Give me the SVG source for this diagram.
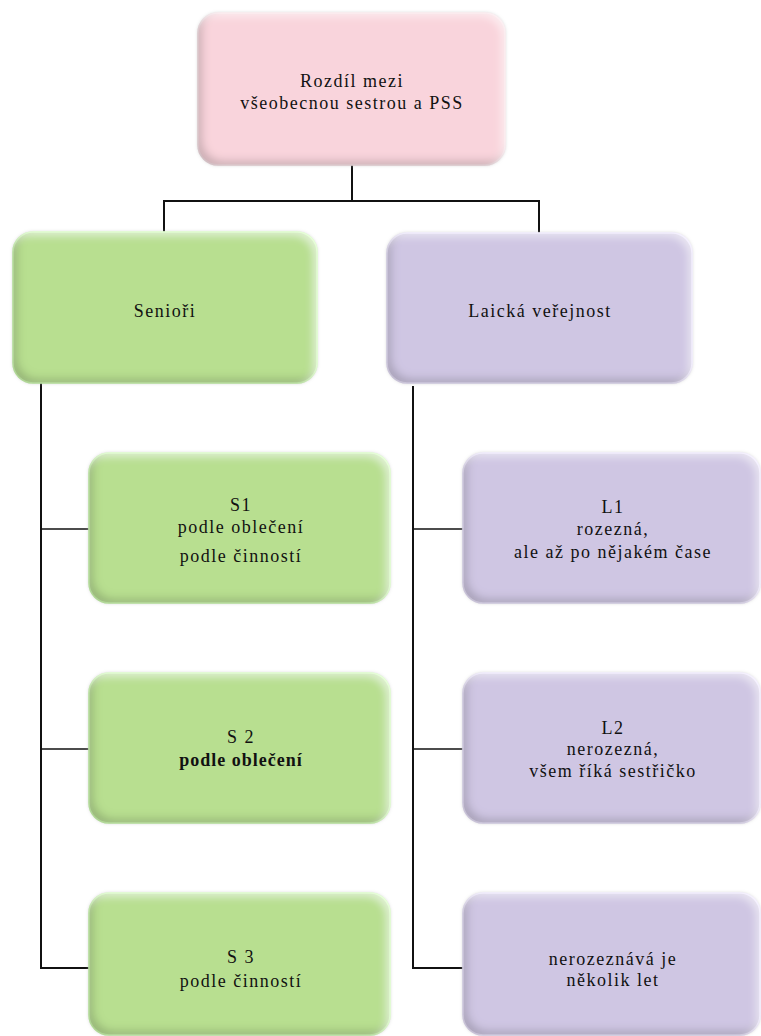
<svg xmlns="http://www.w3.org/2000/svg" width="761" height="1036" viewBox="0 0 761 1036">
  <defs>
    <!-- soft bevel: dark inner edge at left/bottom, light inner edge at top/right -->
    <filter id="bevel" x="-10%" y="-15%" width="120%" height="130%">
      <feComponentTransfer in="SourceAlpha" result="inv">
        <feFuncA type="table" tableValues="1 0"/>
      </feComponentTransfer>
      <feGaussianBlur in="inv" stdDeviation="4" result="invb"/>
      <feOffset in="invb" dx="5" dy="-5" result="sh"/>
      <feFlood flood-color="#333333" flood-opacity="0.38"/>
      <feComposite in2="sh" operator="in" result="shc"/>
      <feComposite in="shc" in2="SourceAlpha" operator="in" result="innerShadow"/>
      <feOffset in="invb" dx="-4" dy="4" result="hl"/>
      <feFlood flood-color="#ffffff" flood-opacity="0.55"/>
      <feComposite in2="hl" operator="in" result="hlc"/>
      <feComposite in="hlc" in2="SourceAlpha" operator="in" result="innerHl"/>
      <feGaussianBlur in="SourceAlpha" stdDeviation="1.5" result="glow"/>
      <feFlood flood-color="#bbbbbb" flood-opacity="0.5"/>
      <feComposite in2="glow" operator="in" result="glowc"/>
      <feMerge>
        <feMergeNode in="glowc"/>
        <feMergeNode in="SourceGraphic"/>
        <feMergeNode in="innerShadow"/>
        <feMergeNode in="innerHl"/>
      </feMerge>
    </filter>
  </defs>
  <style>
    .box { filter: url(#bevel); stroke-width: 1.5; }
    .pink { fill: #f9d4dc; stroke: #fbe2e8; }
    .green { fill: #b8df90; stroke: #cdffaa; }
    .purple { fill: #cfc6e3; stroke: #ece4ff; }
    text { font-family: 'Liberation Serif', 'DejaVu Serif', serif; font-size: 18px; letter-spacing: 1.5px; fill: #111; text-anchor: middle; }
    text.bold { font-weight: bold; letter-spacing: 1px; }
    .conn { fill: none; stroke: #111; stroke-width: 2; }
    .thin { stroke-width: 1.5; }
  </style>

  <rect width="761" height="1036" fill="#ffffff"/>

  <!-- connectors -->
  <g id="connectors">
    <polyline class="conn" points="352,165 352,201"/>
    <polyline class="conn" points="164,232 164,201 539,201 539,233"/>
    <polyline class="conn" points="41,383 41,968 89,968"/>
    <line class="conn thin" x1="41" y1="529" x2="89" y2="529"/>
    <line class="conn thin" x1="41" y1="749" x2="89" y2="749"/>
    <polyline class="conn" points="413,386 413,968 463,968"/>
    <line class="conn thin" x1="413" y1="529" x2="463" y2="529"/>
    <line class="conn thin" x1="413" y1="749" x2="463" y2="749"/>
  </g>

  <!-- root -->
  <g id="root">
    <rect class="box pink" x="198" y="13" width="307" height="152" rx="20"/>
    <text x="352" y="87">Rozdíl mezi</text>
    <text x="352" y="109">všeobecnou sestrou a PSS</text>
  </g>

  <!-- first level -->
  <g id="seniori">
    <rect class="box green" x="13" y="232" width="304" height="151" rx="20"/>
    <text x="165" y="317">Senioři</text>
  </g>
  <g id="laicka">
    <rect class="box purple" x="387" y="233" width="305" height="150" rx="20"/>
    <text x="540" y="317">Laická veřejnost</text>
  </g>

  <!-- seniors -->
  <g id="s1">
    <rect class="box green" x="89" y="453" width="301" height="150" rx="20"/>
    <text x="241" y="511">S1</text>
    <text x="241" y="533">podle oblečení</text>
    <text x="241" y="562">podle činností</text>
  </g>
  <g id="s2">
    <rect class="box green" x="89" y="673" width="301" height="150" rx="20"/>
    <text x="241" y="743">S 2</text>
    <text class="bold" x="241" y="766">podle oblečení</text>
  </g>
  <g id="s3">
    <rect class="box green" x="89" y="893" width="301" height="142" rx="20"/>
    <text x="241" y="963">S 3</text>
    <text x="241" y="987">podle činností</text>
  </g>

  <!-- public -->
  <g id="l1">
    <rect class="box purple" x="463" y="453" width="297" height="150" rx="20"/>
    <text x="613" y="513">L1</text>
    <text x="613" y="535">rozezná,</text>
    <text x="613" y="558">ale až po nějakém čase</text>
  </g>
  <g id="l2">
    <rect class="box purple" x="463" y="673" width="297" height="150" rx="20"/>
    <text x="613" y="734">L2</text>
    <text x="613" y="755">nerozezná,</text>
    <text x="613" y="777">všem říká sestřičko</text>
  </g>
  <g id="l3">
    <rect class="box purple" x="463" y="893" width="297" height="142" rx="20"/>
    <text x="613" y="965">nerozeznává je</text>
    <text x="613" y="986">několik let</text>
  </g>
</svg>
